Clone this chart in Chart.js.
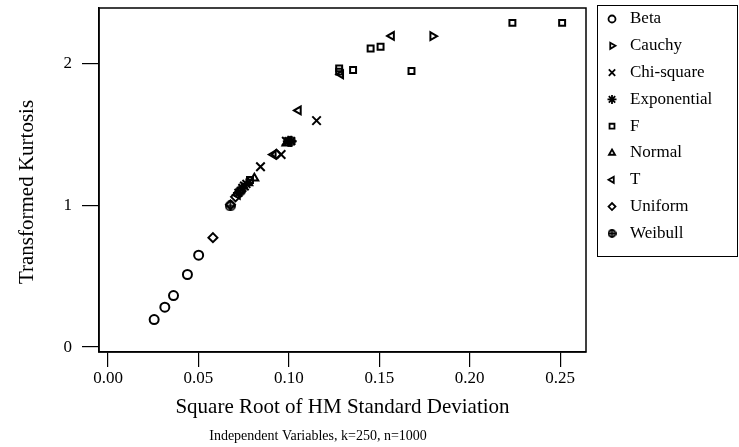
<!DOCTYPE html>
<html>
<head>
<meta charset="utf-8">
<script src="https://cdn.jsdelivr.net/npm/chart.js@4.4.0/dist/chart.umd.min.js"></script>
<style>
  html, body { margin: 0; padding: 0; background: #fff; }
  #wrap { width: 739px; height: 447px; }
</style>
</head>
<body>
<div id="wrap"><canvas id="chart" width="739" height="447"></canvas></div>
<script>
// values
const seriesNames = ['Beta', 'Cauchy', 'Chi-square', 'Exponential', 'F', 'Normal', 'T', 'Uniform', 'Weibull'];

const betaX = [0.0255, 0.0314, 0.0362, 0.0439, 0.0501];
const betaY = [0.194, 0.281, 0.363, 0.512, 0.648];
const cauchyX = [0.1795];
const cauchyY = [2.194];
const chiX = [0.1153, 0.0957, 0.0843, 0.0986, 0.0754];
const chiY = [1.598, 1.359, 1.272, 1.453, 1.137];
const expX = [0.0997, 0.1013, 0.0743, 0.0765, 0.0721];
const expY = [1.453, 1.453, 1.123, 1.151, 1.088];
const fX = [0.2236, 0.2511, 0.1452, 0.1507, 0.1278, 0.1278, 0.1355, 0.1678, 0.0785];
const fY = [2.288, 2.288, 2.107, 2.119, 1.967, 1.944, 1.956, 1.949, 1.179];
const normalX = [0.0809, 0.0776, 0.0986];
const normalY = [1.191, 1.158, 1.439];
const tX = [0.1568, 0.1287, 0.1053, 0.0914, 0.0716];
const tY = [2.196, 1.925, 1.670, 1.359, 1.074];
const uniformX = [0.0580, 0.0677, 0.0705, 0.0931, 0.0727];
const uniformY = [0.772, 1.004, 1.060, 1.361, 1.095];
const weibullX = [0.0676, 0.1008, 0.0732];
const weibullY = [0.996, 1.453, 1.102];

const xTicks = [0, 0.05, 0.10, 0.15, 0.20, 0.25];
const yTicks = [0, 1, 2];

const FONT = "'Liberation Serif', 'Times New Roman', serif";

// circle with a plus sign, used for Weibull
function crossedCircle(size) {
  const c = document.createElement('canvas');
  c.width = size; c.height = size;
  const g = c.getContext('2d');
  const m = size / 2, r = size / 2 - 1;
  g.strokeStyle = '#000';
  g.lineWidth = 1.8;
  g.beginPath(); g.arc(m, m, r, 0, Math.PI * 2); g.stroke();
  g.beginPath();
  g.moveTo(m, 0.5); g.lineTo(m, size - 0.5);
  g.moveTo(0.5, m); g.lineTo(size - 0.5, m);
  g.stroke();
  return c;
}
const weibullMark = crossedCircle(11);
const weibullLegendMark = crossedCircle(9);

function pts(xs, ys) {
  return xs.map((x, i) => ({ x: x, y: ys[i] }));
}

const styles = [
  { style: 'circle', rot: 0, r: 4.5, lr: 3.5 },
  { style: 'triangle', rot: 90, r: 4.5, lr: 3.5 },
  { style: 'crossRot', rot: 0, r: 6, lr: 4.5 },
  { style: 'star', rot: 0, r: 5.5, lr: 4.5 },
  { style: 'rect', rot: 0, r: 4.2, lr: 3.5 },
  { style: 'triangle', rot: 0, r: 4.5, lr: 3.5 },
  { style: 'triangle', rot: 270, r: 4.5, lr: 3.5 },
  { style: 'rectRot', rot: 0, r: 4.5, lr: 3.5 },
  { style: weibullMark, rot: 0, r: 4.5, lr: 3.5 }
];
const allData = [
  pts(betaX, betaY), pts(cauchyX, cauchyY), pts(chiX, chiY), pts(expX, expY),
  pts(fX, fY), pts(normalX, normalY), pts(tX, tY), pts(uniformX, uniformY), pts(weibullX, weibullY)
];

const datasets = seriesNames.map((name, i) => ({
  label: name,
  data: allData[i],
  pointStyle: styles[i].style,
  pointRotation: styles[i].rot,
  pointRadius: styles[i].r,
  pointBorderWidth: 2,
  borderColor: '#000',
  backgroundColor: 'rgba(0,0,0,0)',
  showLine: false
}));

// frame, y title, legend box and the small caption under the x title
const extras = {
  id: 'extras',
  afterDraw(chart) {
    const ctx = chart.ctx;
    const a = chart.chartArea;
    ctx.save();
    ctx.strokeStyle = '#000';
    ctx.lineWidth = 1.5;
    ctx.strokeRect(a.left, a.top, a.right - a.left, a.bottom - a.top);

    ctx.fillStyle = '#000';
    ctx.textBaseline = 'middle';
    ctx.textAlign = 'center';
    ctx.save();
    ctx.translate(27, 192);
    ctx.rotate(-Math.PI / 2);
    ctx.font = '21px ' + FONT;
    ctx.fillText('Transformed Kurtosis', 0, 0);
    ctx.restore();

    // legend
    ctx.lineWidth = 1;
    ctx.strokeRect(597.5, 5.5, 140, 251);
    ctx.font = '17px ' + FONT;
    ctx.textAlign = 'left';
    seriesNames.forEach((name, i) => {
      const y = 19 + i * 26.8;
      const s = styles[i];
      ctx.lineWidth = 1.8;
      ctx.fillStyle = 'rgba(0,0,0,0)';
      Chart.helpers.drawPoint(ctx, {
        pointStyle: i === 8 ? weibullLegendMark : s.style,
        rotation: s.rot,
        radius: s.lr,
        borderWidth: 1.8
      }, 612, y);
      ctx.fillStyle = '#000';
      ctx.fillText(name, 630, y);
    });

    ctx.font = '14px ' + FONT;
    ctx.textAlign = 'center';
    ctx.fillText('Independent Variables, k=250, n=1000', 318, 436);
    ctx.restore();
  }
};

new Chart(document.getElementById('chart'), {
  type: 'scatter',
  data: { datasets: datasets },
  plugins: [extras],
  options: {
    responsive: false,
    animation: false,
    devicePixelRatio: 1,
    layout: { padding: { left: 0, right: 153, top: 6, bottom: 0 } },
    plugins: {
      legend: { display: false },
      tooltip: { enabled: false }
    },
    scales: {
      x: {
        type: 'linear',
        min: -0.005,
        max: 0.2643,
        afterFit: s => { s.height = 95; s.paddingLeft = 0; s.paddingRight = 0; },
        afterBuildTicks: s => { s.ticks = xTicks.map(v => ({ value: v })); },
        ticks: {
          color: '#000',
          padding: 1,
          font: { family: FONT, size: 17 },
          callback: v => v.toFixed(2)
        },
        grid: { drawOnChartArea: false, drawTicks: true, tickLength: 15, color: '#000', lineWidth: 1.2 },
        border: { display: true, color: '#000', width: 1.5 },
        title: {
          display: true,
          text: 'Square Root of HM Standard Deviation',
          color: '#000',
          font: { family: FONT, size: 21 },
          padding: { top: 0, bottom: 27 }
        }
      },
      y: {
        type: 'linear',
        min: -0.035,
        max: 2.393,
        afterFit: s => { s.width = 99; s.paddingTop = 0; s.paddingBottom = 0; },
        afterBuildTicks: s => { s.ticks = yTicks.map(v => ({ value: v })); },
        ticks: {
          color: '#000',
          padding: 10,
          font: { family: FONT, size: 17 },
          callback: v => String(v)
        },
        grid: { drawOnChartArea: false, drawTicks: true, tickLength: 17, color: '#000', lineWidth: 1.2 },
        border: { display: true, color: '#000', width: 1.5 }
      }
    }
  }
});
</script>
</body>
</html>
